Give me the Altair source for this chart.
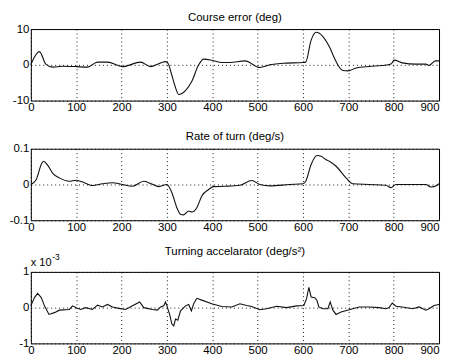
import altair as alt
import pandas as pd

# Course error (deg)
ce_t = [0, 8, 19, 33, 48, 70, 100, 125, 147, 169, 202, 242, 264, 297, 303, 310, 318, 326, 333, 341,
        355, 370, 381, 399, 421, 439, 472, 505, 527, 556, 600, 606, 618, 629, 644, 658, 673, 688, 699, 717,
        746, 775, 794, 801, 819, 849, 871, 878, 892, 900]
ce_v = [0, 2.2, 3.7, 0.2, -0.65, -0.4, -0.5, -0.65, 0.75, 0.75, -0.5, 0.75, -0.5, 0.9, 0.3, -2.5, -6.0, -8.3, -8.0, -7.2,
        -4.6, 0, 1.6, 1.3, 0.65, 0.65, 1.1, -0.75, 0, 0.45, 0.65, 0.75, 6.9, 9.1, 7.9, 5.1, 0.9, -1.6, -1.7, -0.9,
        -0.45, -0.2, 0.2, 1.3, 0.55, 0.2, 0.2, -0.2, 1.1, 1.1]

# Rate of turn (deg/s)
rt_t = [0, 12, 23, 28, 37, 48, 63, 85, 100, 118, 136, 158, 180, 202, 224, 249, 264, 282, 300, 311,
        322, 330, 337, 348, 355, 366, 377, 392, 403, 428, 461, 487, 505, 527, 571, 600, 606, 618, 631, 640,
        651, 658, 673, 695, 710, 746, 783, 794, 805, 842, 871, 882, 896, 900]
rt_v = [0, 0.014, 0.056, 0.065, 0.054, 0.032, 0.0185, 0.009, 0.012, 0.005, -0.003, 0.002, 0.005, 0, -0.005, 0.009, 0.003, -0.006, 0, -0.023,
        -0.065, -0.083, -0.085, -0.074, -0.077, -0.065, -0.032, -0.014, -0.006, -0.005, -0.002, 0.011, 0, -0.004, 0, 0.002, 0.009, 0.056, 0.081, 0.079,
        0.069, 0.065, 0.051, 0.0185, 0.002, 0, -0.002, -0.009, 0, 0, 0, -0.007, -0.002, 0.002]

# Turning accelarator (x 1e-3 deg/s^2)
ta_t = [0, 8, 15, 23, 30, 40, 52, 63, 85, 92, 100, 110, 121, 136, 147, 158, 169, 180, 194, 209,
        224, 240, 249, 268, 279, 286, 293, 297, 300, 306, 311, 315, 319, 324, 330, 341, 348, 354, 359, 366,
        377, 399, 421, 443, 461, 476, 487, 505, 520, 542, 564, 586, 602, 608, 613, 618, 626, 631, 635, 644,
        655, 660, 666, 673, 684, 702, 724, 746, 768, 783, 790, 797, 805, 819, 842, 856, 871, 878, 889, 900]
ta_v = [0.05, 0.28, 0.4, 0.28, 0.05, -0.19, -0.14, -0.07, -0.05, 0.05, 0, -0.05, 0, -0.05, 0.07, 0.02, 0.09, 0.02, -0.02, -0.05,
        0.05, 0.16, 0, -0.05, -0.07, 0.02, 0.05, 0.16, 0.05, -0.19, -0.46, -0.51, -0.32, -0.35, -0.09, 0.05, 0.09, -0.09, 0.11, 0.26,
        0.21, 0.11, 0.03, 0.02, 0.11, 0.06, 0.03, -0.06, -0.03, 0.04, 0, 0.05, 0.06, 0.25, 0.57, 0.30, 0.28, 0.2, 0.02, -0.03,
        -0.03, 0.16, -0.07, -0.19, -0.12, -0.06, 0.02, 0.02, 0, -0.03, 0, 0.13, 0.04, 0.02, -0.03, 0.02, -0.07, -0.03, 0.06, 0.09]

x_ticks = list(range(0, 901, 100))
FONT = "Liberation Sans"
W, H = 411, 72


def title(text, off):
    return alt.TitleParams(text, fontSize=11.5, font=FONT, fontWeight="normal",
                           color="black", offset=off, anchor="middle")


def panel(ts, vs, dom, yticks, interp):
    df = pd.DataFrame({"t": ts, "v": vs})
    return alt.Chart(df).mark_line(color="#111111", strokeWidth=1.1, interpolate=interp).encode(
        x=alt.X("t:Q", scale=alt.Scale(domain=[0, 900], nice=False, zero=False),
                axis=alt.Axis(values=x_ticks, title=None, labelExpr="toString(datum.value)",
                              labelAlign=alt.expr("datum.value == 900 ? 'right' : 'center'"),
                              labelPadding=1.5, labelFontSize=11.5)),
        y=alt.Y("v:Q", scale=alt.Scale(domain=dom, nice=False, zero=False),
                axis=alt.Axis(values=yticks, title=None, labelExpr="toString(datum.value)",
                              labelFontSize=11.5, labelPadding=2, minExtent=22, maxExtent=22)),
    ).properties(width=W, height=H)


p1 = panel(ce_t, ce_v, [-10, 10], [-10, 0, 10], "monotone").properties(
    title=title("Course error (deg)", 0))
p2 = panel(rt_t, rt_v, [-0.1, 0.1], [-0.1, 0, 0.1], "monotone").properties(
    title=title("Rate of turn (deg/s)", 0))
p3line = panel(ta_t, ta_v, [-1, 1], [-1, 0, 1], "linear")

exp_main = alt.Chart(pd.DataFrame({"s": ["x 10"]})).mark_text(
    align="left", baseline="alphabetic", font=FONT, fontSize=11, color="black"
).encode(x=alt.value(0), y=alt.value(-6), text="s:N")
exp_sup = alt.Chart(pd.DataFrame({"s": ["-3"]})).mark_text(
    align="left", baseline="alphabetic", font=FONT, fontSize=8.5, color="black"
).encode(x=alt.value(21.5), y=alt.value(-12), text="s:N")

p3 = alt.layer(p3line, exp_main, exp_sup).properties(
    title=title("Turning accelarator (deg/s\u00b2)", -5))

chart = alt.vconcat(alt.vconcat(p1, p2, spacing=16.5), p3, spacing=12.5).properties(
    padding={"left": 0, "top": 2, "right": 0, "bottom": 0}
).configure_view(
    stroke="black", strokeWidth=1
).configure_axis(
    labelFont=FONT, labelColor="black",
    domain=False, ticks=False,
    grid=True, gridColor="black", gridDash=[1, 3], gridOpacity=0.9, gridWidth=1,
)

chart.save("out.html", embed_options={"renderer": "svg", "actions": False})
